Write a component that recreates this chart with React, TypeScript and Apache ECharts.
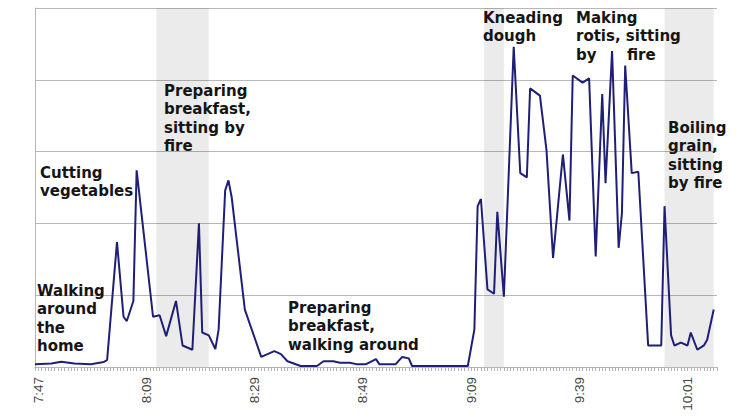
import React, { useEffect, useRef } from "react";
import * as echarts from "echarts";

// category count (one tick per sample)
const sampleCount = 209;
// tick labels and the sample index where each one sits
const tickLabels = ["7:47", "8:09", "8:29", "8:49", "9:09", "9:39", "10:01"];
const tickIndex = [1, 34, 67, 100, 133, 166, 199];

// sample index of each vertex of the activity trace
const sampleIndex = [
  0, 5, 8, 12, 17, 21, 22, 25, 27, 28, 30, 31, 36, 38, 40, 43, 45, 48, 50, 51,
  53, 55, 56, 58, 59, 60, 64, 69, 73, 75, 77, 81, 86, 88, 91, 93, 96, 98, 101,
  104, 105, 110, 112, 114, 115, 132, 134, 135, 136, 138, 140, 141, 143, 146,
  148, 150, 151, 154, 156, 158, 161, 163, 164, 167, 169, 171, 173, 174, 176,
  178, 179, 180, 182, 184, 187, 191, 192, 194, 195, 197, 199, 200, 202, 204,
  205, 207,
];
// activity level at each vertex
const activity = [
  2, 2.4, 3.7, 2.4, 1.9, 3.5, 5, 87, 35, 32, 46, 137, 35, 36, 21.5, 46, 15, 12,
  100, 24, 22, 12.5, 26, 123, 130, 118, 40, 7, 11, 9, 4, 0.7, 0.7, 4, 4, 3, 3,
  2, 2, 5.5, 2, 2, 7, 6, 0.7, 0.7, 26, 112, 117, 54, 51, 108, 49, 223, 135, 132,
  194, 189, 151, 76, 148, 102, 203, 198, 201, 77, 190, 128, 220, 83, 107, 210,
  135, 136, 15, 15, 112, 22, 15, 17, 15, 24, 12, 15, 19, 40,
];

// shaded activity periods (sample index ranges)
const bandStart = [37, 137, 192];
const bandEnd = [53, 143, 207];

// annotations
const noteText = [
  "Cutting\nvegetables",
  "Walking\naround\nthe\nhome",
  "Preparing\nbreakfast,\nsitting by\nfire",
  "Preparing\nbreakfast,\nwalking around",
  "Kneading\ndough",
  "Making\nrotis, sitting\nby",
  "fire",
  "Boiling\ngrain,\nsitting\nby fire",
];
const noteX = [40, 37, 164, 288, 483, 576, 627, 668];
const noteY = [164, 282, 82, 299, 9, 9, 45.6, 119];

export default function App() {
  const ref = useRef<HTMLDivElement>(null);

  useEffect(() => {
    if (!ref.current) return;
    const chart = echarts.init(ref.current, null, { renderer: "svg" });
    const categories = Array.from({ length: sampleCount }, (_, i) => String(i));
    const data = sampleIndex.map((x, k) => [x, activity[k]]);

    chart.setOption({
      animation: false,
      backgroundColor: "#ffffff",
      grid: { left: 35, right: 36, top: 8, bottom: 52, containLabel: false },
      xAxis: {
        type: "category",
        data: categories,
        boundaryGap: false,
        axisLine: { show: true, lineStyle: { color: "#b5b5b5", width: 1 } },
        axisTick: {
          show: true,
          interval: 0,
          length: 4,
          lineStyle: { color: "#b5b5b5", width: 1 },
        },
        axisLabel: {
          interval: (index: number) => tickIndex.includes(index),
          formatter: (_v: string, index: number) => {
            const k = tickIndex.indexOf(index);
            return k >= 0 ? tickLabels[k] : "";
          },
          rotate: 90,
          margin: 10,
          color: "#444444",
          fontFamily: "Liberation Sans",
          fontSize: 13.5,
        },
        splitLine: { show: false },
      },
      yAxis: {
        type: "value",
        min: 0,
        max: 250,
        interval: 50,
        axisLine: { show: true, lineStyle: { color: "#b5b5b5", width: 1 } },
        axisTick: { show: false },
        axisLabel: { show: false },
        splitLine: { show: true, lineStyle: { color: "#b8b8b8", width: 1 } },
      },
      series: [
        {
          type: "line",
          data,
          symbol: "none",
          lineStyle: { color: "#1f1f78", width: 2 },
          markArea: {
            silent: true,
            itemStyle: { color: "rgba(0,0,0,0.08)" },
            data: bandStart.map((s, k) => [{ xAxis: s }, { xAxis: bandEnd[k] }]),
          },
        },
      ],
      graphic: noteText.map((t, k) => ({
        type: "text",
        left: noteX[k],
        top: noteY[k],
        z: 10,
        style: {
          text: t,
          fill: "#151515",
          font: "bold 15px 'DejaVu Sans'",
          lineHeight: 18.3,
        },
      })),
    });

    return () => chart.dispose();
  }, []);

  return (
    <div
      ref={ref}
      style={{
        position: "fixed",
        left: 0,
        top: 0,
        width: 753,
        height: 419,
        background: "#ffffff",
      }}
    />
  );
}
